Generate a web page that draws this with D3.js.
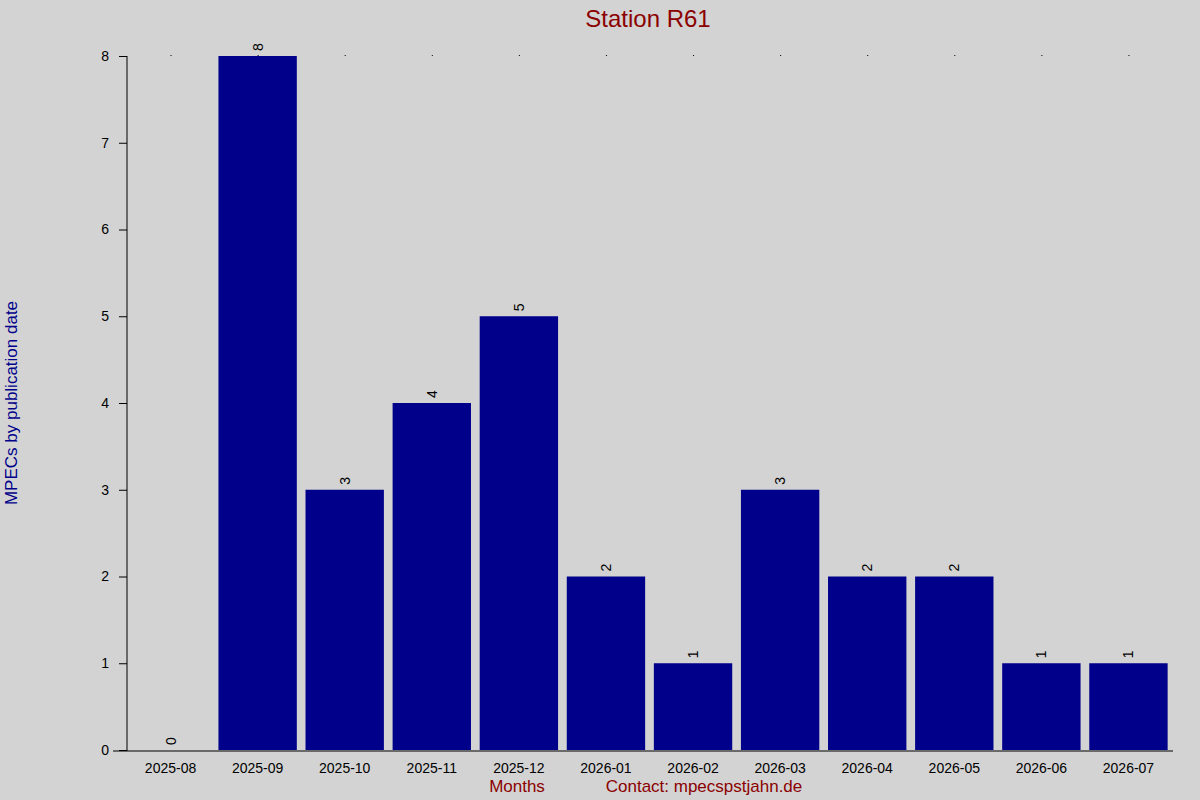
<!DOCTYPE html>
<html><head><meta charset="utf-8">
<script src="https://cdn.jsdelivr.net/npm/d3@7"></script>
<style>body{margin:0;background:#d3d3d3}text{font-family:"Liberation Sans",Arial,sans-serif}</style>
</head><body>
<svg id="chart" width="1200" height="800"></svg>
<script>
var months = ["2025-08","2025-09","2025-10","2025-11","2025-12","2026-01","2026-02","2026-03","2026-04","2026-05","2026-06","2026-07"];
var counts = [0, 8, 3, 4, 5, 2, 1, 3, 2, 2, 1, 1];
var yTicks = [0, 1, 2, 3, 4, 5, 6, 7, 8];

var margin = {top: 56, right: 28, bottom: 50, left: 127},
    width = 1200 - margin.left - margin.right,
    height = 800 - margin.top - margin.bottom;

var svg = d3.select("#chart");
svg.append("rect").attr("width", 1200).attr("height", 800).attr("fill", "#d3d3d3");
var g = svg.append("g").attr("transform", "translate(" + margin.left + "," + margin.top + ")");

var x = d3.scaleBand().domain(months).range([0, width]).paddingInner(0.1).paddingOuter(0.05);
var y = d3.scaleLinear().domain([0, 8]).range([height, 0]);

// bars
g.selectAll("rect.bar").data(months).join("rect")
  .attr("class", "bar")
  .attr("x", d => x(d))
  .attr("y", (d, i) => y(counts[i]))
  .attr("width", x.bandwidth())
  .attr("height", (d, i) => height - y(counts[i]))
  .attr("fill", "#00008b");

// value labels, rotated
g.selectAll("text.val").data(months).join("text")
  .attr("class", "val")
  .attr("transform", (d, i) => "translate(" + (x(d) + x.bandwidth() / 2 + 5) + "," + (y(counts[i]) - 5) + ") rotate(-90)")
  .attr("font-size", 14)
  .text((d, i) => counts[i]);

// small dots at top
g.selectAll("rect.dot").data(months).join("rect")
  .attr("class", "dot")
  .attr("x", d => x(d) + x.bandwidth() / 2)
  .attr("y", -1).attr("width", 1).attr("height", 1).attr("fill", "#000");

// y axis
var yAxis = g.append("g").call(d3.axisLeft(y).tickValues(yTicks).tickSize(8).tickPadding(10));
yAxis.select(".domain").attr("d", "M0," + (height + 1) + "V0");
yAxis.selectAll("text").attr("font-size", 14).attr("fill", "#000").attr("font-family", "Liberation Sans, Arial, sans-serif");

// x axis
var xAxis = g.append("g").attr("transform", "translate(0," + (height + 1) + ")")
  .call(d3.axisBottom(x).tickSize(0).tickPadding(12));
xAxis.select(".domain").attr("d", "M-14,0H" + (width + 1));
xAxis.selectAll("text").attr("font-size", 14).attr("fill", "#000").attr("font-family", "Liberation Sans, Arial, sans-serif");

// titles
svg.append("text").attr("x", 648).attr("y", 27).attr("text-anchor", "middle")
  .attr("font-size", 24).attr("fill", "#8b0000").text("Station R61");
svg.append("text").attr("x", 517).attr("y", 792).attr("text-anchor", "middle")
  .attr("font-size", 17).attr("fill", "#8b0000").text("Months");
svg.append("text").attr("x", 704).attr("y", 792).attr("text-anchor", "middle")
  .attr("font-size", 17).attr("fill", "#8b0000").text("Contact: mpecspstjahn.de");
svg.append("text").attr("transform", "translate(17,403) rotate(-90)").attr("text-anchor", "middle")
  .attr("font-size", 17).attr("fill", "#00008b").text("MPECs by publication date");
</script>
</body></html>
